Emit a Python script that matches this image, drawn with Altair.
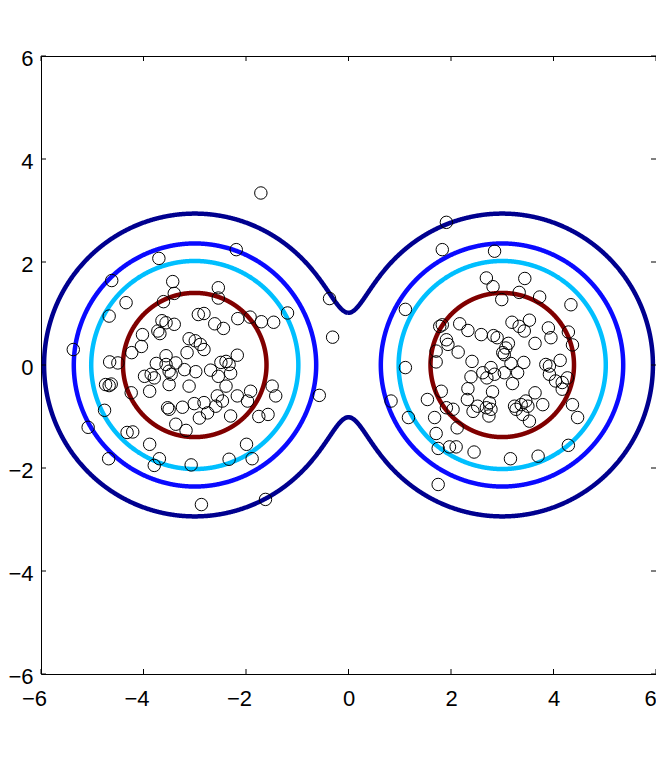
import numpy as np
import pandas as pd
import altair as alt

# ---- model: mixture of two isotropic Gaussians ----
centers_x = [-3.0, 3.0]
centers_y = [0.0, 0.0]
sigma = 1.0
# contour levels given by radius on the outer side of a lobe (innermost first)
contour_radii = [1.40, 2.02, 2.36, 2.94]
contour_names = ["c1", "c2", "c3", "c4"]
contour_colors = ["#800000", "#00BFFF", "#0A0AFF", "#00008F"]

# ---- sample points ----
left_x = [-1.71, -3.70, -2.19, -4.62, -3.43, -3.40, -2.54, -2.54, -3.61, -4.34,
          -4.67, -2.93, -2.82, -5.37, -0.37, -0.31, -1.19, -2.61, -2.44, -2.16,
          -1.92, -1.70, -1.46, -2.17, -3.64, -3.56, -3.40, -3.72, -3.68, -4.02,
          -4.04, -4.23, -3.56, -3.11, -2.99, -2.89, -2.82, -3.15, -4.66, -4.50,
          -3.75, -3.56, -3.37, -4.74, -4.67, -4.63, -4.24, -4.76, -5.08, -4.32,
          -4.21, -3.88, -4.68, -3.69, -3.79, -3.98, -3.85, -3.79, -3.50, -3.46,
          -3.20, -2.98, -3.88, -3.50, -3.11, -3.53, -3.50, -3.24, -3.01, -2.91,
          -3.37, -3.17, -3.07, -2.87, -2.69, -2.49, -2.39, -2.33, -2.30, -2.54,
          -2.39, -2.17, -1.91, -1.97, -2.56, -2.46, -2.59, -2.82, -2.75, -2.30,
          -1.49, -1.42, -1.75, -1.57, -0.57, -1.99, -2.33, -1.88, -1.62]
left_y = [3.34, 2.07, 2.24, 1.64, 1.62, 1.39, 1.50, 1.30, 1.23, 1.21,
          0.95, 0.98, 1.00, 0.30, 1.29, 0.54, 1.01, 0.80, 0.71, 0.90,
          0.93, 0.84, 0.83, 0.19, 0.86, 0.82, 0.79, 0.66, 0.61, 0.59,
          0.36, 0.24, 0.18, 0.51, 0.47, 0.40, 0.30, 0.24, 0.06, 0.04,
          0.03, 0.01, 0.04, -0.38, -0.40, -0.37, -0.54, -0.88, -1.21, -1.31,
          -1.30, -1.54, -1.82, -1.82, -1.95, -0.22, -0.18, -0.25, -0.12, -0.18,
          -0.09, -0.13, -0.51, -0.38, -0.41, -0.83, -0.86, -0.82, -0.75, -1.03,
          -1.15, -1.27, -1.94, -2.71, -0.10, 0.05, 0.07, 0.01, -0.16, -0.22,
          -0.41, -0.60, -0.51, -0.70, -0.60, -0.70, -0.80, -0.73, -0.93, -0.99,
          -0.41, -0.60, -1.00, -0.96, -0.59, -1.54, -1.83, -1.82, -2.61]

right_x = [1.91, 1.83, 2.85, 2.69, 2.82, 1.11, 1.78, 1.83, 2.17, 2.33,
           2.59, 2.83, 2.90, 1.91, 1.94, 2.14, 1.71, 1.71, 2.41, 1.11,
           3.44, 3.33, 2.99, 3.73, 4.34, 3.19, 3.33, 3.53, 3.43, 3.90,
           3.95, 4.29, 4.37, 3.12, 3.07, 3.01, 3.04, 3.64, 4.13, 3.42,
           3.17, 3.85, 3.92, 0.83, 1.17, 1.54, 1.81, 1.91, 2.04, 1.68,
           2.12, 1.71, 1.97, 2.10, 1.75, 2.45, 1.75, 2.39, 2.62, 2.33,
           2.32, 2.52, 2.43, 2.69, 2.78, 2.85, 2.70, 2.81, 2.75, 2.78,
           2.74, 3.04, 3.30, 3.20, 4.04, 4.17, 4.27, 4.17, 3.92, 3.24,
           3.27, 3.37, 3.46, 3.50, 3.64, 3.79, 3.40, 3.53, 4.37, 4.47,
           4.29, 3.70, 3.16]
right_y = [2.77, 2.24, 2.21, 1.69, 1.52, 1.08, 0.75, 0.78, 0.80, 0.67,
           0.59, 0.57, 0.53, 0.49, 0.40, 0.25, 0.27, 0.06, 0.07, -0.05,
           1.68, 1.41, 1.27, 1.32, 1.17, 0.83, 0.75, 0.87, 0.66, 0.72,
           0.53, 0.64, 0.39, 0.42, 0.33, 0.24, 0.20, 0.42, 0.09, 0.05,
           0.03, 0.01, -0.02, -0.70, -1.02, -0.67, -0.51, -0.83, -0.86, -1.02,
           -1.22, -1.33, -1.59, -1.59, -1.62, -1.69, -2.32, -0.23, -0.15, -0.46,
           -0.67, -0.80, -0.90, -0.83, -0.05, -0.18, -0.25, -0.52, -0.73, -0.86,
           -0.99, -0.15, -0.15, -0.36, -0.31, -0.34, -0.25, -0.47, -0.18, -0.80,
           -0.86, -0.77, -0.70, -0.80, -0.54, -0.77, -0.96, -1.09, -0.77, -1.02,
           -1.56, -1.77, -1.82]

tick_values = [-6, -4, -2, 0, 2, 4, 6]
axis_domain = [-6, 6]

W, H = 615, 618
TICK = 5
FONT = "Liberation Sans"


def density(x, y):
    x = np.asarray(x, float)
    y = np.asarray(y, float)
    d = np.zeros(np.broadcast(x, y).shape)
    for cx, cy in zip(centers_x, centers_y):
        d = d + np.exp(-((x - cx) ** 2 + (y - cy) ** 2) / (2 * sigma ** 2))
    return d


# ---- contour lines of the mixture density ----
rows = []
t = np.linspace(0, 5, 4001)
for name, r in zip(contour_names, contour_radii):
    level = float(density(centers_x[0] - r, centers_y[0]))
    arcs = []
    full = True
    for cx, cy in zip(centers_x, centers_y):
        side = np.sign(cx)
        if side < 0:
            th = np.linspace(0, 2 * np.pi, 1441)
        else:
            th = np.linspace(-np.pi, np.pi, 1441)
        X = cx + np.outer(np.cos(th), t)
        Y = cy + np.outer(np.sin(th), t)
        D = density(X, Y)
        below = D < level
        has = below.any(axis=1)
        i1 = np.where(has, below.argmax(axis=1), 1)
        i0 = i1 - 1
        ar = np.arange(len(th))
        d0 = D[ar, i0]
        d1 = D[ar, i1]
        f = (d0 - level) / (d0 - d1)
        tt = t[i0] + f * (t[i1] - t[i0])
        px = cx + np.cos(th) * tt
        py = cy + np.sin(th) * tt
        keep = has & (side * px >= 0)
        if not keep.all():
            full = False
        arcs.append((px[keep], py[keep]))
    if full:
        for k, (px, py) in enumerate(arcs):
            for j, (a, b) in enumerate(zip(px, py)):
                rows.append({"x": a, "y": b, "grp": f"{name}-{k}", "ord": j, "lvl": name})
    else:
        px = np.concatenate([a[0] for a in arcs] + [arcs[0][0][:1]])
        py = np.concatenate([a[1] for a in arcs] + [arcs[0][1][:1]])
        for j, (a, b) in enumerate(zip(px, py)):
            rows.append({"x": a, "y": b, "grp": f"{name}", "ord": j, "lvl": name})

contour_df = pd.DataFrame(rows)
points_df = pd.DataFrame({"x": left_x + right_x, "y": left_y + right_y})
ticks_df = pd.DataFrame({"v": tick_values})

minus_expr = "replace(datum.label, '-', '\u2212')"

x_scale = alt.Scale(domain=axis_domain, nice=False, zero=False)
y_scale = alt.Scale(domain=axis_domain, nice=False, zero=False)

x_axis = alt.Axis(values=tick_values, ticks=False, domain=False, grid=False, title=None,
                  labelFont=FONT, labelFontSize=22, labelColor="black", labelFlush=False,
                  labelPadding=14, labelExpr=minus_expr,
                  labelOffset={"condition": [{"test": "datum.value < 0", "value": -7},
                                             {"test": "datum.value >= 6", "value": -6}],
                               "value": 0})
y_axis = alt.Axis(values=tick_values, ticks=False, domain=False, grid=False, title=None,
                  labelFont=FONT, labelFontSize=22, labelColor="black", labelFlush=False,
                  labelPadding=8, labelExpr=minus_expr, labelOffset=2)

contours = alt.Chart(contour_df).mark_line(strokeWidth=4.5, clip=True).encode(
    x=alt.X("x:Q", scale=x_scale, axis=x_axis),
    y=alt.Y("y:Q", scale=y_scale, axis=y_axis),
    color=alt.Color("lvl:N", scale=alt.Scale(domain=contour_names, range=contour_colors), legend=None),
    detail="grp:N",
    order="ord:Q",
)

points = alt.Chart(points_df).mark_point(shape="circle", filled=False, color="black",
                                         strokeWidth=1, size=155, opacity=1).encode(
    x="x:Q", y="y:Q"
)

tick_bottom = alt.Chart(ticks_df).mark_rule(color="black", strokeWidth=1).encode(
    x="v:Q", y=alt.value(H), y2=alt.value(H - TICK))
tick_top = alt.Chart(ticks_df).mark_rule(color="black", strokeWidth=1).encode(
    x="v:Q", y=alt.value(0), y2=alt.value(TICK))
tick_left = alt.Chart(ticks_df).mark_rule(color="black", strokeWidth=1).encode(
    y="v:Q", x=alt.value(0), x2=alt.value(TICK))
tick_right = alt.Chart(ticks_df).mark_rule(color="black", strokeWidth=1).encode(
    y="v:Q", x=alt.value(W), x2=alt.value(W - TICK))

chart = alt.layer(contours, points, tick_bottom, tick_top, tick_left, tick_right).properties(
    width=W, height=H, autosize="none",
    padding={"left": 33, "top": 48, "right": 0, "bottom": 40},
    background="white",
).configure_view(stroke="black", strokeWidth=1)

chart.save("out.html", embed_options={"renderer": "svg", "actions": False})
